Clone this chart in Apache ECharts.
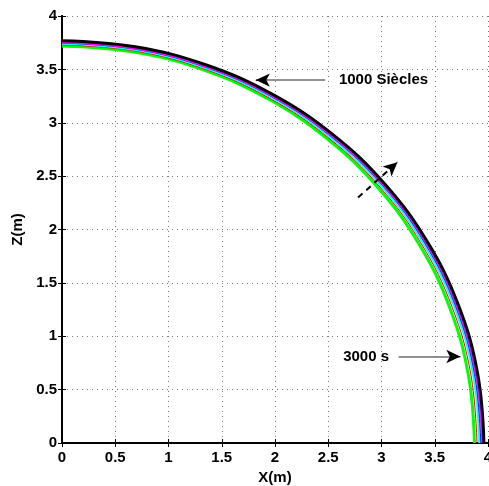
<!DOCTYPE html>
<html lang="en">
<head>
  <meta charset="UTF-8">
  <title>X-Z</title>
  <script src="https://cdn.jsdelivr.net/npm/echarts@6/dist/echarts.min.js"></script>
  <style>html,body{margin:0;padding:0;background:#fff;}</style>
</head>
<body>
<div id="box" style="width: 489px;height: 486px;"></div>
<script>
  // ticks
  var ticks = [0, 0.5, 1, 1.5, 2, 2.5, 3, 3.5, 4];

  // points, outer to inner
  var blackX = [0, 0.688, 1.355, 1.981, 2.547, 3.035, 3.431, 3.723, 3.902, 3.962];
  var blackZ = [3.768, 3.711, 3.541, 3.263, 2.886, 2.422, 1.884, 1.289, 0.654, 0];
  var magentaX = [0, 0.685, 1.349, 1.972, 2.535, 3.021, 3.416, 3.706, 3.884, 3.944];
  var magentaZ = [3.752, 3.695, 3.526, 3.249, 2.874, 2.412, 1.876, 1.283, 0.652, 0];
  var blueX = [0, 0.683, 1.345, 1.967, 2.528, 3.013, 3.406, 3.696, 3.873, 3.933];
  var blueZ = [3.747, 3.690, 3.521, 3.245, 2.870, 2.409, 1.874, 1.282, 0.651, 0];
  var cyanX = [0, 0.681, 1.341, 1.960, 2.520, 3.003, 3.395, 3.684, 3.861, 3.920];
  var cyanZ = [3.742, 3.685, 3.516, 3.241, 2.867, 2.405, 1.871, 1.280, 0.650, 0];
  var redX = [0, 0.677, 1.333, 1.949, 2.505, 2.985, 3.375, 3.662, 3.838, 3.897];
  var redZ = [3.730, 3.673, 3.505, 3.230, 2.857, 2.398, 1.865, 1.276, 0.648, 0];
  var greenX = [0, 0.673, 1.325, 1.937, 2.490, 2.967, 3.354, 3.639, 3.814, 3.873];
  var greenZ = [3.720, 3.663, 3.496, 3.222, 2.850, 2.391, 1.860, 1.272, 0.646, 0];

  // annotations (data units)
  var label1 = '1000 Siècles';
  var label1Pos = [2.60, 3.40];
  var arrow1 = [[2.47, 3.40], [1.82, 3.40]];
  var label2 = '3000 s';
  var label2Pos = [2.64, 0.81];
  var arrow2 = [[3.16, 0.81], [3.74, 0.81]];
  var arrow3 = [[2.78, 2.30], [3.15, 2.63]];

  function pts(xs, zs) {
    var out = [];
    for (var i = 0; i < xs.length; i++) out.push([xs[i], zs[i]]);
    return out;
  }

  var font = 'Liberation Sans, Arial, Helvetica, sans-serif';

  function curve(name, xs, zs, color, w) {
    return {
      name: name, type: 'line', data: pts(xs, zs), smooth: 0.4,
      showSymbol: false, symbol: 'none', xAxisIndex: 0, yAxisIndex: 0,
      lineStyle: {color: color, width: w}, z: 3
    };
  }

  function headLine(p, q) {
    // short black piece at the tip carrying the arrow head
    var dx = q[0] - p[0], dy = q[1] - p[1];
    var len = Math.sqrt(dx * dx + dy * dy);
    return [{coord: [q[0] - dx / len * 0.02, q[1] - dy / len * 0.02]}, {coord: q}];
  }

  var myChart = echarts.init(document.getElementById('box'));
  var option = {
    animation: false,
    backgroundColor: '#fff',
    grid: {left: 62, right: 1, top: 16, bottom: 43, containLabel: false, outerBoundsMode: 'none'},
    xAxis: [{
      type: 'value', min: 0, max: 4, interval: 0.5, position: 'bottom',
      name: 'X(m)', nameLocation: 'middle', nameGap: 27,
      nameTextStyle: {fontFamily: font, fontWeight: 'bold', fontSize: 15, color: '#000'},
      axisLine: {lineStyle: {color: '#000', width: 2}},
      axisTick: {inside: true, length: 4, lineStyle: {color: '#000'}},
      axisLabel: {fontFamily: font, fontWeight: 'bold', fontSize: 15, color: '#000', margin: 7,
        formatter: function (v) { return String(v); }},
      splitLine: {show: true, lineStyle: {color: '#777', type: [1, 4], width: 1}}
    }, {
      type: 'value', min: 0, max: 4, interval: 0.5, position: 'top',
      axisLine: {lineStyle: {color: '#000', width: 2}},
      axisTick: {inside: true, length: 4, lineStyle: {color: '#000'}},
      axisLabel: {show: false}, splitLine: {show: false}
    }],
    yAxis: [{
      type: 'value', min: 0, max: 4, interval: 0.5, position: 'left',
      name: 'Z(m)', nameLocation: 'middle', nameGap: 34, nameRotate: 90,
      nameTextStyle: {fontFamily: font, fontWeight: 'bold', fontSize: 15, color: '#000'},
      axisLine: {lineStyle: {color: '#000', width: 2}},
      axisTick: {inside: true, length: 4, lineStyle: {color: '#000'}},
      axisLabel: {fontFamily: font, fontWeight: 'bold', fontSize: 15, color: '#000', margin: 5,
        formatter: function (v) { return String(v); }},
      splitLine: {show: true, lineStyle: {color: '#777', type: [1, 4], width: 1}}
    }, {
      type: 'value', min: 0, max: 4, interval: 0.5, position: 'right',
      axisLine: {lineStyle: {color: '#000', width: 2}},
      axisTick: {inside: true, length: 4, lineStyle: {color: '#000'}},
      axisLabel: {show: false}, splitLine: {show: false}
    }],
    series: [
      curve('green', greenX, greenZ, '#00ff00', 3),
      curve('red', redX, redZ, '#ff0000', 1),
      curve('cyan', cyanX, cyanZ, '#00ffff', 2.5),
      curve('blue', blueX, blueZ, '#0000ff', 1),
      curve('magenta', magentaX, magentaZ, '#ff00ff', 2),
      curve('black', blackX, blackZ, '#000000', 3),
      {
        name: 'notes', type: 'line', data: [], xAxisIndex: 0, yAxisIndex: 0, z: 5,
        markLine: {
          silent: true, animation: false, label: {show: false},
          data: [
            [{coord: arrow1[0], symbol: 'none', lineStyle: {color: '#6e6e6e', width: 1.5, type: 'solid'}},
              {coord: arrow1[1], symbol: 'none'}],
            [{coord: arrow2[0], symbol: 'none', lineStyle: {color: '#6e6e6e', width: 1.5, type: 'solid'}},
              {coord: arrow2[1], symbol: 'none'}],
            [{coord: arrow3[0], symbol: 'none', lineStyle: {color: '#000', width: 2, type: [6, 5]}},
              {coord: arrow3[1], symbol: 'none'}]
          ]
        }
      },
      {
        name: 'heads', type: 'line', data: [], xAxisIndex: 0, yAxisIndex: 0, z: 6,
        markLine: {
          silent: true, animation: false, label: {show: false},
          symbol: ['none', 'arrow'], symbolSize: [10, 14],
          lineStyle: {color: '#000', width: 1, type: 'solid'},
          data: [headLine(arrow1[0], arrow1[1]), headLine(arrow2[0], arrow2[1]), headLine(arrow3[0], arrow3[1])]
        },
        markPoint: {
          silent: true, animation: false, symbol: 'circle', symbolSize: 0,
          label: {show: true, position: 'right', distance: 0, color: '#000',
            fontFamily: font, fontWeight: 'bold', fontSize: 15},
          data: [
            {coord: label1Pos, value: label1, label: {formatter: label1}},
            {coord: label2Pos, value: label2, label: {formatter: label2}}
          ]
        }
      }
    ]
  };
  myChart.setOption(option);
</script>
</body>
</html>
